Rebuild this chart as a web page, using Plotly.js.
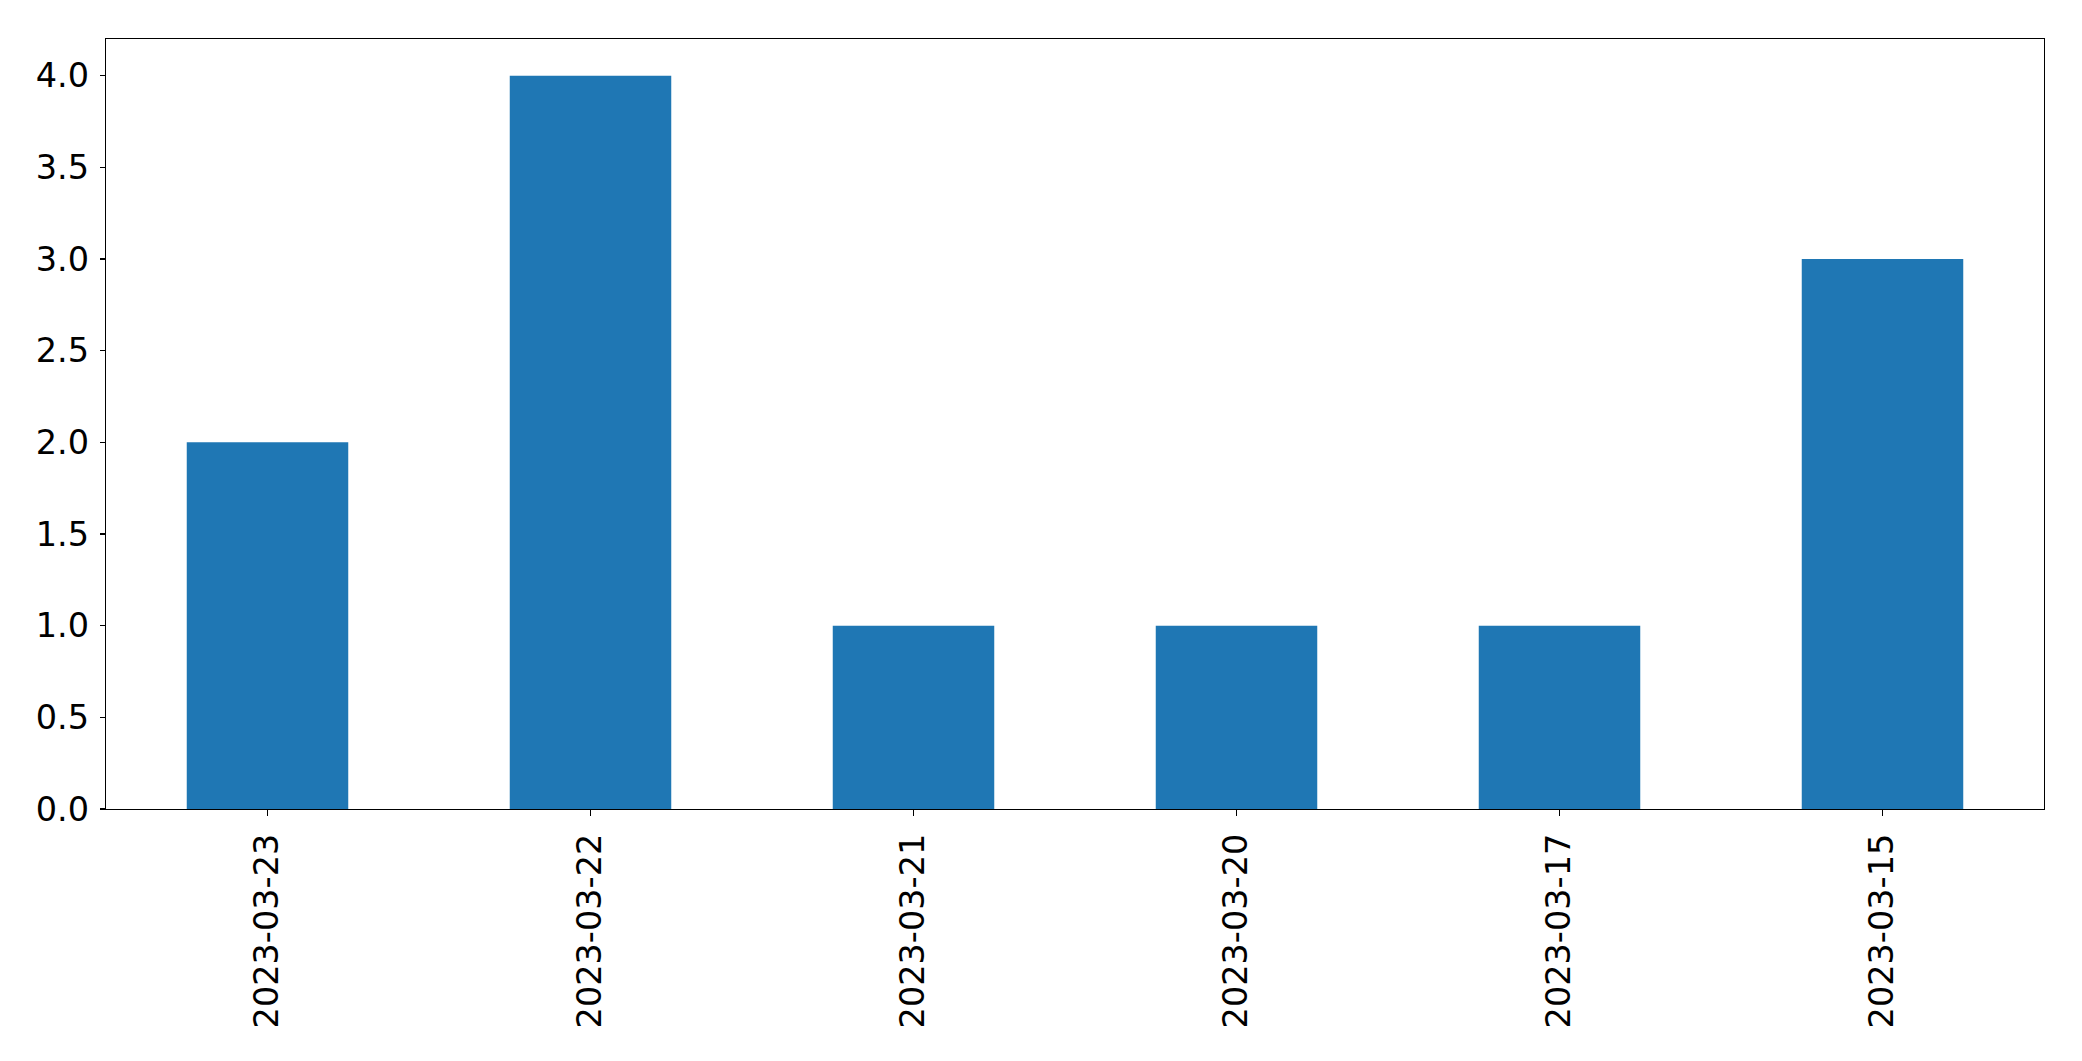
<!DOCTYPE html>
<html>
<head>
<meta charset="utf-8">
<script src="https://cdn.plot.ly/plotly-3.0.1.min.js"></script>
<style>html,body{margin:0;padding:0;background:#fff;}#chart{width:2082px;height:1061px;}</style>
</head>
<body>
<div id="chart"></div>
<script>
var dates = ["2023-03-23", "2023-03-22", "2023-03-21", "2023-03-20", "2023-03-17", "2023-03-15"];
var counts = [2, 4, 1, 1, 1, 3];
var yTicks = [0, 0.5, 1, 1.5, 2, 2.5, 3, 3.5, 4];
var yTickText = ["0.0", "0.5", "1.0", "1.5", "2.0", "2.5", "3.0", "3.5", "4.0"];

var trace = {
  type: "bar",
  x: dates,
  y: counts,
  width: 0.5,
  marker: {color: "#1f77b4", line: {width: 0}},
  hoverinfo: "x+y"
};

var layout = {
  width: 2082,
  height: 1061,
  margin: {l: 106, r: 38, t: 39, b: 252, pad: 0},
  paper_bgcolor: "#ffffff",
  plot_bgcolor: "#ffffff",
  showlegend: false,
  font: {family: "DejaVu Sans", size: 33.5, color: "#000000"},
  xaxis: {
    type: "category",
    range: [-0.5, 5.5],
    tickangle: -90,
    ticks: "outside",
    ticklen: 6,
    tickwidth: 1.3,
    tickcolor: "#000",
    showline: true,
    mirror: true,
    linecolor: "#000",
    linewidth: 1.3,
    showgrid: false,
    zeroline: false,
    tickfont: {family: "DejaVu Sans", size: 33.5, color: "#000"},
    ticklabelstandoff: 4
  },
  yaxis: {
    range: [0, 4.2],
    tickmode: "array",
    tickvals: yTicks,
    ticktext: yTickText,
    ticks: "outside",
    ticklen: 5,
    tickwidth: 1.3,
    tickcolor: "#000",
    showline: true,
    mirror: true,
    linecolor: "#000",
    linewidth: 1.3,
    showgrid: false,
    zeroline: false,
    tickfont: {family: "DejaVu Sans", size: 33.5, color: "#000"},
    ticklabelstandoff: 4
  }
};

Plotly.newPlot("chart", [trace], layout, {displayModeBar: false, staticPlot: true});
</script>
</body>
</html>
